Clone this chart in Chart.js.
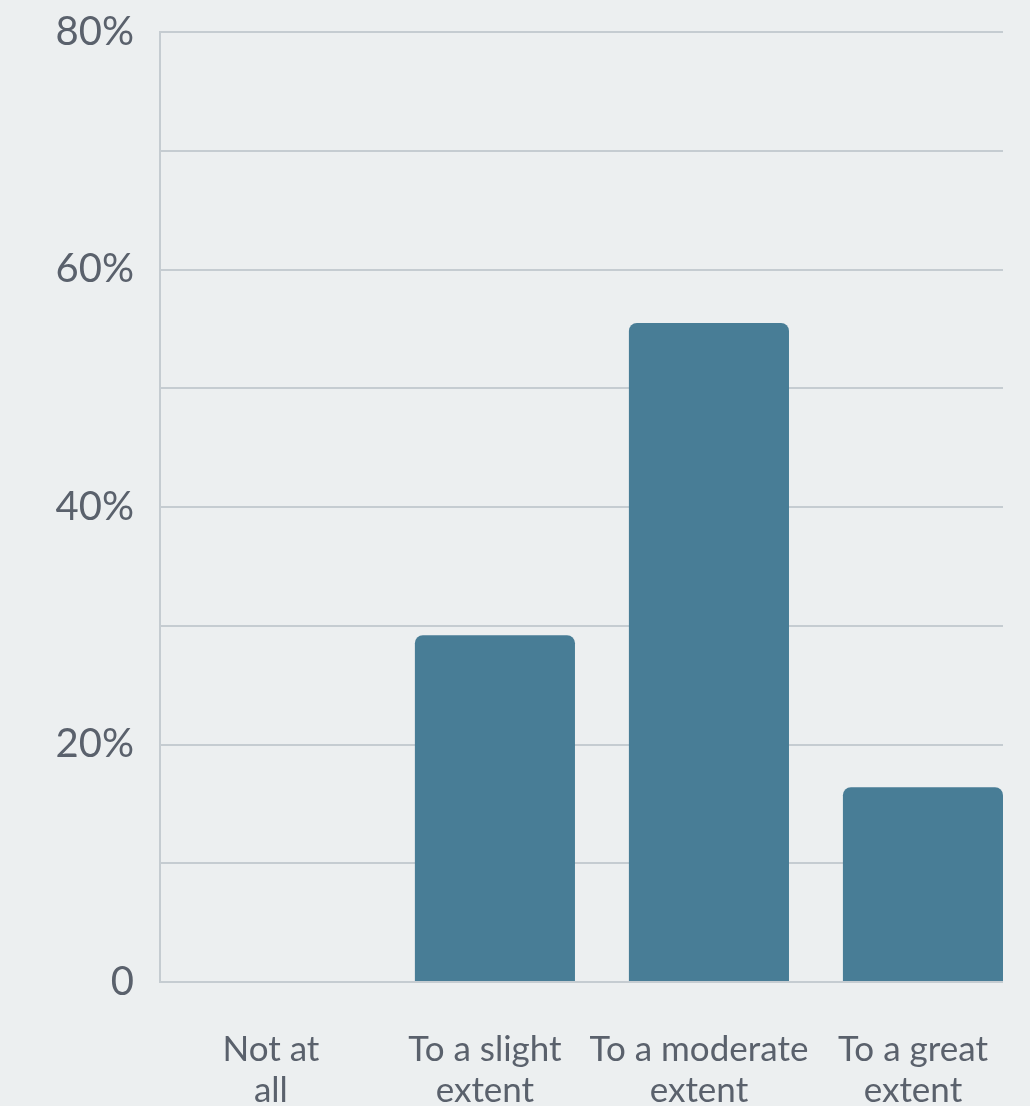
<!DOCTYPE html>
<html>
<head>
<meta charset="utf-8">
<script src="https://cdn.jsdelivr.net/npm/chart.js@4"></script>
<style>
    html, body { margin: 0; padding: 0; background: #eceff0; }
    #wrap { width: 1030px; height: 1106px; position: relative; }
</style>
</head>
<body>
<div id="wrap"><canvas id="extentChart"></canvas></div>
<script>
// categories and values
const categories = [['Not at', 'all'], ['To a slight', 'extent'], ['To a moderate', 'extent'], ['To a great', 'extent']];
const shares = [0, 29.2, 55.5, 16.4];
const yTickValues = [0, 20, 40, 60, 80];
const yTickLabels = ['0', '20%', '40%', '60%', '80%'];

const gridColor = '#c5ccd1';
const textColor = '#5a616c';

function initExtentChart() {
    const ctx = document.getElementById('extentChart');

    new Chart(ctx, {
        type: 'bar',
        data: {
            datasets: [{
                data: shares.map((v, i) => ({ x: i, y: v })),
                backgroundColor: '#487d96',
                borderRadius: { topLeft: 8, topRight: 8, bottomLeft: 0, bottomRight: 0 },
                borderSkipped: false,
                barPercentage: 0.748,
                categoryPercentage: 1
            }]
        },
        options: {
            responsive: true,
            maintainAspectRatio: false,
            animation: false,
            layout: { padding: { top: 32, right: 27, left: 0, bottom: 0 } },
            plugins: { legend: { display: false }, tooltip: { enabled: false } },
            scales: {
                x: {
                    type: 'linear',
                    offset: false,
                    min: -0.565,
                    max: 3.374,
                    grid: { display: false, offset: false },
                    border: { display: false },
                    afterFit: (scale) => {
                        scale.height = 124;
                        scale.paddingLeft = 0;
                        scale.paddingRight = 0;
                    },
                    ticks: {
                        stepSize: 1,
                        includeBounds: false,
                        autoSkip: false,
                        maxRotation: 0,
                        padding: 40,
                        labelOffset: -10,
                        color: textColor,
                        font: { family: 'Lato', size: 35, lineHeight: 1.15 },
                        callback: (value) => Number.isInteger(value) ? (categories[value] || '') : ''
                    }
                },
                y: {
                    min: 0,
                    max: 80,
                    grid: { color: gridColor, lineWidth: 2, drawTicks: false },
                    border: { display: true, color: gridColor, width: 2 },
                    afterFit: (scale) => {
                        scale.width = 160;
                        scale.paddingTop = 0;
                        scale.paddingBottom = 0;
                    },
                    ticks: {
                        stepSize: 10,
                        padding: 26,
                        color: textColor,
                        font: { family: 'Lato', size: 40 },
                        callback: (value) => {
                            const k = yTickValues.indexOf(value);
                            return k >= 0 ? yTickLabels[k] : '';
                        }
                    }
                }
            }
        }
    });
}

initExtentChart();
</script>
</body>
</html>
